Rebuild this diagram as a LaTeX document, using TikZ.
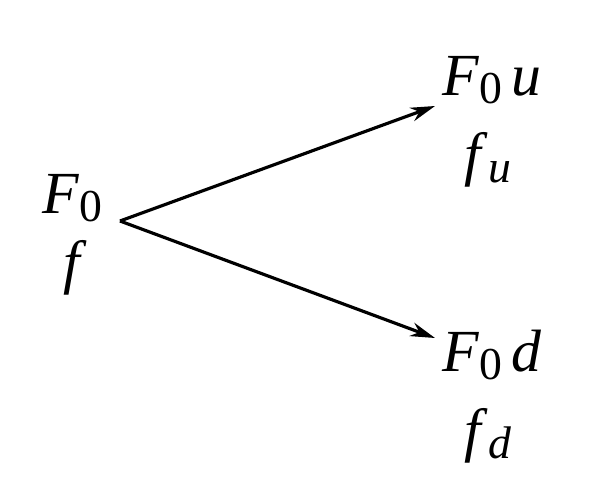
\documentclass[tikz,border=0pt]{standalone}
\usepackage{fontspec}
\setmainfont{Liberation Serif}
\usetikzlibrary{arrows.meta}
\newcommand{\lbl}{\node[font=\fontsize{34}{38}\selectfont, inner sep=0pt]}
\newcommand{\sub}[1]{\raisebox{-0.3ex}{\fontsize{26}{30}\selectfont #1}}
\begin{document}
\begin{tikzpicture}[x=0.02cm, y=-0.02cm]
            \useasboundingbox (0,0) rectangle (608,486);

            \lbl (f0) at (72,198) {\textit{F}\sub{0}};
            \lbl (f) at (75,268) {\textit{f}};
            \lbl (f0u) at (492,80) {\textit{F}\sub{0}\,\textit{u}};
            \lbl (fu) at (488,160) {\textit{f}\sub{\textit{u}}};
            \lbl (f0d) at (492,355) {\textit{F}\sub{0}\,\textit{d}};
            \lbl (fd) at (488,436) {\textit{f}\sub{\textit{d}}};

            \coordinate (o) at (120,221);
            \coordinate (up) at (435,106);
            \coordinate (dn) at (435,338);

            \draw[-{Stealth[length=14pt,width=8pt]}, line width=1.8pt]
                (o) -- (up);
            \draw[-{Stealth[length=14pt,width=8pt]}, line width=1.8pt]
                (o) -- (dn);

        \end{tikzpicture}
\end{document}
